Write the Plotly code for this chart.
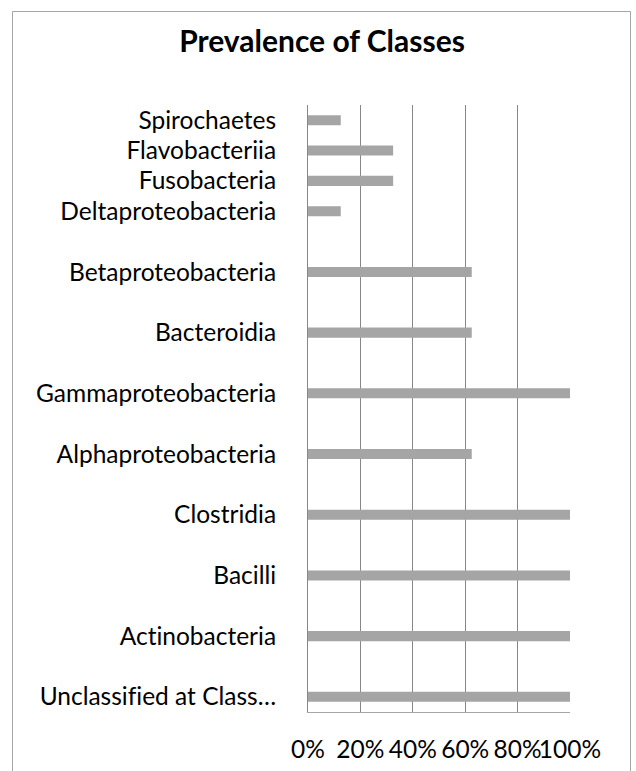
import plotly.graph_objects as go

# Categories listed top to bottom; "gap" entries are empty rows in the original chart
categories = [
    "Spirochaetes", "Flavobacteriia", "Fusobacteria", "Deltaproteobacteria",
    "gap1", "Betaproteobacteria", "gap2", "Bacteroidia", "gap3",
    "Gammaproteobacteria", "gap4", "Alphaproteobacteria", "gap5", "Clostridia",
    "gap6", "Bacilli", "gap7", "Actinobacteria", "gap8", "Unclassified at Class…",
]
prevalence = [
    12.5, 32.5, 32.5, 12.5,
    None, 62.5, None, 62.5, None,
    100, None, 62.5, None, 100,
    None, 100, None, 100, None, 100,
]
labelled = [c for c in categories if not c.startswith("gap")]
x_ticks = [0, 20, 40, 60, 80, 100]
x_ticktext = ["0%", "20%", "40%", "60%", "80%", "100%"]

W, H = 636, 771
L, R, T, B = 308, 66, 105, 59
pw, ph = W - L - R, H - T - B

FONT = "Lato"

fig = go.Figure(go.Bar(
    x=prevalence, y=categories, orientation="h",
    marker=dict(color="#A5A5A5", line=dict(width=0)),
))

def px_x(p):
    return (p - L) / pw

def px_y(p):
    return 1 - (p - T) / ph

fig.update_layout(
    width=W, height=H,
    margin=dict(l=L, r=R, t=T, b=B, autoexpand=False),
    paper_bgcolor="white", plot_bgcolor="white",
    showlegend=False,
    bargap=0.67,
    title=dict(
        text="<b>Prevalence of Classes</b>",
        x=322 / W, xref="container", xanchor="center",
        y=1 - 41 / H, yref="container", yanchor="middle",
        font=dict(family=FONT, size=30, color="#000000"),
    ),
    xaxis=dict(
        range=[0, 100], tickvals=x_ticks, ticktext=x_ticktext,
        showgrid=True, gridcolor="#878787", gridwidth=1,
        zeroline=False, showline=True, linecolor="#A6A6A6", linewidth=1,
        ticks="", ticklabelstandoff=16, tickangle=0, automargin=False,
        tickfont=dict(family=FONT, size=24.5, color="#000000"),
        fixedrange=True,
    ),
    yaxis=dict(
        type="category", autorange="reversed",
        tickvals=labelled, ticktext=labelled,
        showgrid=False, zeroline=False, automargin=False,
        showline=True, linecolor="#878787", linewidth=1,
        ticks="", ticklabelstandoff=26,
        tickfont=dict(family=FONT, size=24.5, color="#000000"),
        fixedrange=True,
    ),
    shapes=[dict(
        type="rect", xref="paper", yref="paper",
        x0=px_x(12.5), x1=px_x(630.5), y0=px_y(900), y1=px_y(11.5),
        line=dict(color="#A6A6A6", width=1), fillcolor="rgba(0,0,0,0)",
        layer="below",
    )],
)

css = ("var s=document.createElement('style');"
       "s.textContent='html,body{margin:0;padding:0;overflow:hidden;}"
       "text{font-variant-ligatures:none !important;"
       "font-feature-settings:\"liga\" 0,\"clig\" 0,\"dlig\" 0 !important;}';"
       "document.head.appendChild(s);")
fig.write_html("out.html", post_script=css,
               config={"displayModeBar": False, "staticPlot": True})
